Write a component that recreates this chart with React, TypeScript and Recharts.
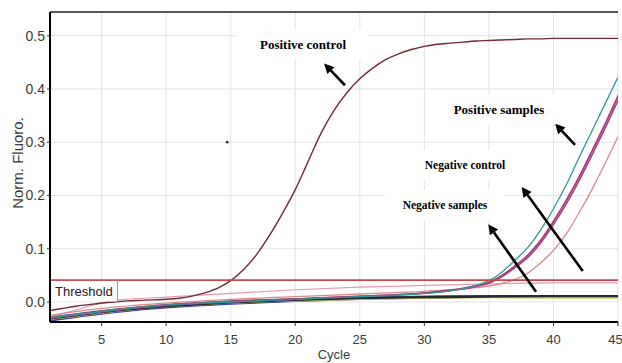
import React from 'react';
import { LineChart, Line, XAxis, YAxis, CartesianGrid, ReferenceLine, ReferenceDot } from 'recharts';

// ---------- data ----------
const cycles = [1,2,3,4,5,6,7,8,9,10,11,12,13,14,15,16,17,18,19,20,21,22,23,24,25,26,27,28,29,30,31,32,33,34,35,36,37,38,39,40,41,42,43,44,45];
const positiveControl = [-0.016,-0.012,-0.008,-0.005,-0.002,0.0,0.002,0.003,0.004,0.005,0.007,0.011,0.017,0.026,0.040,0.061,0.089,0.125,0.166,0.211,0.264,0.317,0.36,0.393,0.419,0.439,0.455,0.466,0.474,0.48,0.484,0.486,0.488,0.49,0.491,0.492,0.493,0.494,0.494,0.495,0.495,0.495,0.495,0.495,0.495];

const sampleCycles = [1,5,10,15,20,25,30,32,33,34,35,36,37,38,39,40,41,42,43,44,45];
const posSampleTeal = [-0.03,-0.018,-0.006,0.0,0.005,0.01,0.016,0.021,0.025,0.031,0.04,0.056,0.078,0.102,0.135,0.175,0.22,0.272,0.322,0.372,0.422];
const posSampleMagenta = [-0.03,-0.018,-0.006,0.001,0.006,0.011,0.017,0.022,0.026,0.031,0.037,0.05,0.068,0.088,0.116,0.152,0.192,0.236,0.285,0.335,0.388];
const posSamplePurple = [-0.031,-0.019,-0.007,0.0,0.005,0.01,0.016,0.021,0.024,0.029,0.035,0.047,0.064,0.083,0.11,0.145,0.184,0.228,0.276,0.326,0.378];
const posSampleRose = [-0.029,-0.017,-0.005,0.001,0.006,0.011,0.017,0.022,0.025,0.030,0.036,0.049,0.066,0.086,0.113,0.149,0.188,0.232,0.281,0.330,0.383];
const posSamplePink = [-0.025,-0.012,-0.002,0.005,0.01,0.015,0.02,0.023,0.025,0.027,0.03,0.035,0.042,0.054,0.073,0.097,0.128,0.168,0.212,0.26,0.31];

const negControlCycles = [1,3,6,10,15,20,25,30,35,40,45];
const negativeControl = [-0.028,-0.015,0.003,0.009,0.016,0.023,0.028,0.031,0.034,0.036,0.036];

const negCycles = [1,3,5,8,10,12,15,20,25,30,35,40,45];
const negBlue = [-0.034,-0.027,-0.021,-0.013,-0.009,-0.006,-0.002,0.003,0.007,0.009,0.010,0.010,0.010];
const negNavy = [-0.033,-0.026,-0.020,-0.012,-0.008,-0.005,-0.001,0.004,0.007,0.009,0.010,0.011,0.011];
const negGray = [-0.030,-0.024,-0.018,-0.011,-0.007,-0.004,0.0,0.004,0.008,0.009,0.010,0.010,0.010];
const negGreen = [-0.031,-0.025,-0.019,-0.012,-0.008,-0.005,-0.001,0.003,0.007,0.009,0.0095,0.009,0.009];
const negYellow = [-0.032,-0.026,-0.020,-0.012,-0.008,-0.005,-0.001,0.003,0.006,0.008,0.009,0.008,0.008];
const negTeal = [-0.029,-0.023,-0.017,-0.010,-0.006,-0.003,0.001,0.005,0.008,0.010,0.011,0.011,0.011];
const negPurple = [-0.035,-0.028,-0.022,-0.014,-0.010,-0.007,-0.003,0.002,0.006,0.008,0.010,0.010,0.010];
const negDark = [-0.031,-0.025,-0.019,-0.012,-0.008,-0.005,-0.001,0.004,0.007,0.009,0.010,0.011,0.011];

const thresholdValue = 0.041;
const xTicks = [5,10,15,20,25,30,35,40,45];
const yTicks = [0,0.1,0.2,0.3,0.4,0.5];
const xDomain = [1,45];
const yDomain = [-0.0376,0.5445];

// annotation labels
const annotationLabels = [
  { text: 'Positive control', cycle: 20.6, value: 0.484, size: 13 },
  { text: 'Positive samples', cycle: 35.78, value: 0.362, size: 13 },
  { text: 'Negative control', cycle: 33.15, value: 0.257, size: 11.5 },
  { text: 'Negative samples', cycle: 31.6, value: 0.182, size: 11.5 },
];
// arrows: tail -> head
const arrows = [
  { from: [23.85, 0.407], to: [22.23, 0.448] },
  { from: [41.67, 0.295], to: [40.12, 0.335] },
  { from: [42.27, 0.058], to: [37.54, 0.216] },
  { from: [38.65, 0.019], to: [34.95, 0.146] },
];
const strayDot = { cycle: 14.73, value: 0.3 };

const pts = (xs: number[], ys: number[]) => xs.map((x, i) => ({ cycle: x, value: ys[i] }));

const negSeries = [
  { name: 'n1', data: pts(negCycles, negPurple), color: '#5a3d90' },
  { name: 'n2', data: pts(negCycles, negBlue), color: '#2255b0' },
  { name: 'n3', data: pts(negCycles, negGray), color: '#8c8c8c' },
  { name: 'n4', data: pts(negCycles, negGreen), color: '#5aa070' },
  { name: 'n5', data: pts(negCycles, negTeal), color: '#2a6a80' },
  { name: 'n6', data: pts(negCycles, negNavy), color: '#1e3570' },
  { name: 'n7', data: pts(negCycles, negYellow), color: '#d4d860' },
  { name: 'n8', data: pts(negCycles, negDark), color: '#262a30' },
];
const posSeries = [
  { name: 'p5', data: pts(sampleCycles, posSamplePink), color: '#d88a8a' },
  { name: 'p3', data: pts(sampleCycles, posSamplePurple), color: '#8a3d8f' },
  { name: 'p4', data: pts(sampleCycles, posSampleRose), color: '#c0508a' },
  { name: 'p2', data: pts(sampleCycles, posSampleMagenta), color: '#a8306a' },
  { name: 'p1', data: pts(sampleCycles, posSampleTeal), color: '#2f9a9a' },
];

const tickStyle = { fontFamily: 'Liberation Sans, Arial, sans-serif', fontSize: 13, fill: '#3a3a3a' };

const ArrowShape = (p: any) => {
  const { x1, y1, x2, y2 } = p;
  const dx = x2 - x1, dy = y2 - y1;
  const len = Math.sqrt(dx * dx + dy * dy) || 1;
  const ux = dx / len, uy = dy / len;
  const hl = 10, hw = 5;
  const bx = x2 - ux * hl, by = y2 - uy * hl;
  const pts2 = `${x2},${y2} ${bx - uy * hw},${by + ux * hw} ${bx + uy * hw},${by - ux * hw}`;
  return (
    <g>
      <line x1={x1} y1={y1} x2={bx} y2={by} stroke="#000" strokeWidth={2.6} />
      <polygon points={pts2} fill="#000" />
    </g>
  );
};

const makeLabelShape = (text: string, size: number) => (p: any) => {
  const { cx, cy } = p;
  const w = text.length * size * 0.46 + 36;
  return (
    <g>
      <rect x={cx - w / 2} y={cy - 15} width={w} height={30} fill="#fff" />
      <text x={cx} y={cy + size * 0.35} textAnchor="middle" fontFamily="Liberation Serif, Times New Roman, serif" fontWeight="bold" fontSize={size} fill="#000">{text}</text>
    </g>
  );
};

const ThresholdTag = (p: any) => {
  const vb = p.viewBox || {};
  const x = vb.x, y = vb.y;
  return (
    <g>
      <rect x={x + 1} y={y + 0.8} width={66.5} height={20.5} fill="#fff" />
      <line x1={x + 67.5} y1={y} x2={x + 67.5} y2={y + 21.5} stroke="#9a9a9a" strokeWidth={1} />
      <text x={x + 5} y={y + 16} fontFamily="Liberation Sans, Arial, sans-serif" fontSize={13} fill="#222">Threshold</text>
    </g>
  );
};

export default function App() {
  return (
    <div style={{ position: 'absolute', left: 0, top: 0, width: 622, height: 363, background: '#fff' }}>
      <LineChart width={622} height={363} margin={{ top: 12, right: 4, bottom: 0, left: 0 }}>
        <CartesianGrid stroke="#e3e3e3" strokeWidth={1} />
        <XAxis
          dataKey="cycle"
          type="number"
          domain={xDomain}
          ticks={xTicks}
          allowDataOverflow
          height={41}
          tick={tickStyle}
          tickSize={4}
          tickMargin={9}
          axisLine={{ stroke: '#000', strokeWidth: 2 }}
          tickLine={{ stroke: '#333' }}
          label={{
            content: (lp: any) => {
              const vb = lp.viewBox || {};
              return (
                <text x={vb.x + vb.width / 2} y={359.3} textAnchor="middle" fontFamily="Liberation Sans, Arial, sans-serif" fontSize={13} fill="#3a3a3a">Cycle</text>
              );
            },
          }}
        />
        <YAxis
          dataKey="value"
          type="number"
          domain={yDomain}
          ticks={yTicks}
          allowDataOverflow
          width={50}
          tick={{ ...tickStyle, fontSize: 14 }}
          tickSize={3}
          tickMargin={2}
          tickFormatter={(v: number) => v.toFixed(1)}
          axisLine={{ stroke: '#000', strokeWidth: 2 }}
          tickLine={{ stroke: '#333' }}
          label={{
            content: (lp: any) => {
              const vb = lp.viewBox || {};
              const cy = vb.y + vb.height / 2 - 4;
              return (
                <text transform={`translate(${17.5},${cy}) rotate(-90)`} textAnchor="middle" dominantBaseline="central" fontFamily="Liberation Sans, Arial, sans-serif" fontSize={15} fill="#3a3a3a">Norm. Fluoro.</text>
              );
            },
          }}
        />
        <ReferenceLine y={yDomain[1]} stroke="#222" strokeWidth={1.5} />
        {negSeries.map((s) => (
          <Line key={s.name} data={s.data} dataKey="value" type="monotone" stroke={s.color} strokeWidth={2.2} dot={false} isAnimationActive={false} />
        ))}
        <Line data={pts(negControlCycles, negativeControl)} dataKey="value" type="monotone" stroke="#e39ab4" strokeWidth={1.2} dot={false} isAnimationActive={false} />
        {posSeries.map((s) => (
          <Line key={s.name} data={s.data} dataKey="value" type="monotone" stroke={s.color} strokeWidth={1.3} dot={false} isAnimationActive={false} />
        ))}
        <Line data={pts(cycles, positiveControl)} dataKey="value" type="monotone" stroke="#6e2a35" strokeWidth={1.4} dot={false} isAnimationActive={false} />
        <ReferenceLine y={thresholdValue} stroke="#c0494c" strokeWidth={1.6} label={(lp: any) => <ThresholdTag {...lp} />} />
        {annotationLabels.map((a) => (
          <ReferenceDot key={a.text} x={a.cycle} y={a.value} r={1} shape={makeLabelShape(a.text, a.size)} />
        ))}
        {arrows.map((a, i) => (
          <ReferenceLine key={i} segment={[{ x: a.from[0], y: a.from[1] }, { x: a.to[0], y: a.to[1] }]} shape={ArrowShape} />
        ))}
        <ReferenceDot x={strayDot.cycle} y={strayDot.value} r={1.4} fill="#333" stroke="none" />
      </LineChart>
    </div>
  );
}
